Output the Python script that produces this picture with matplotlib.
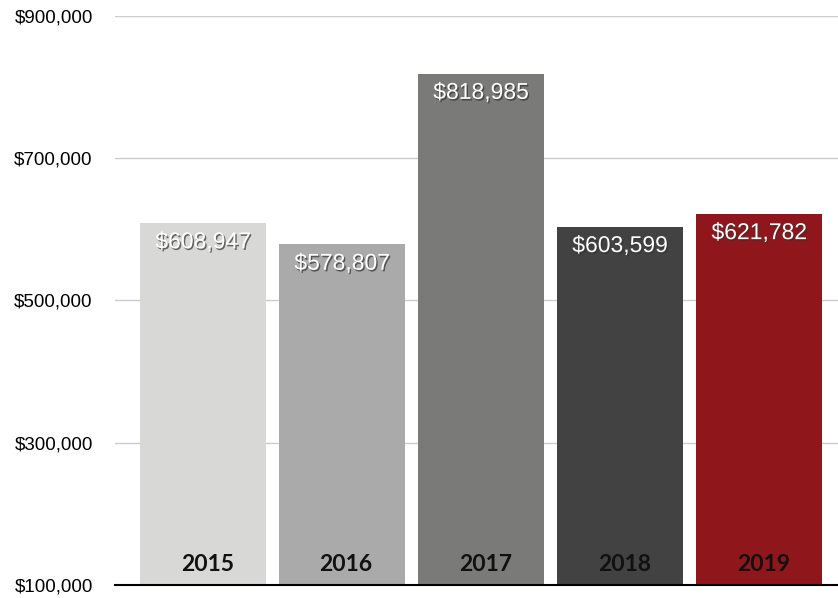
import matplotlib.pyplot as plt
import matplotlib.patheffects as pe
from matplotlib.ticker import FuncFormatter

years = ['2015', '2016', '2017', '2018', '2019']
values = [608947, 578807, 818985, 603599, 621782]
colors = ['#d8d8d6', '#a9aaa9', '#7a7a78', '#424242', '#8f171b']
yticks = [100000, 300000, 500000, 700000, 900000]

fig = plt.figure(figsize=(8.38, 5.98), dpi=100)
ax = fig.add_axes([115/838, 13/598, 1 - 115/838, 569/598])

x = range(len(years))
bars = ax.bar(x, values, width=0.906, color=colors, zorder=2)

ax.set_ylim(100000, 900000)
ax.set_xlim(-0.633, 4.568)
ax.set_yticks(yticks)
ax.yaxis.set_major_formatter(FuncFormatter(lambda v, p: '${:,.0f}'.format(v)))
ax.tick_params(axis='y', length=0, pad=16, labelsize=13.5)
ax.tick_params(axis='x', length=0, labelbottom=False)
for lbl in ax.get_yticklabels():
    lbl.set_fontfamily('Liberation Sans')

ax.grid(axis='y', color='#cccccc', lw=1, zorder=0)
for s in ['top', 'right', 'left']:
    ax.spines[s].set_visible(False)
ax.spines['bottom'].set_color('black')
ax.spines['bottom'].set_linewidth(1.5)
ax.spines['bottom'].set_zorder(3)

shadow = [pe.SimplePatchShadow(offset=(1, -1.2), shadow_rgbFace='#333333', alpha=0.7), pe.Normal()]
for xi, v, yr in zip(x, values, years):
    ax.annotate('${:,.0f}'.format(v), (xi, v), xytext=(0, -13.5), textcoords='offset points',
                ha='center', va='center', color='white', fontsize=16.5,
                family='Liberation Sans', path_effects=shadow, zorder=4)
    ax.annotate(yr, (xi + 0.03, 100000), xytext=(0, 14.5), textcoords='offset points',
                ha='center', va='center', color='#111111', fontsize=16.5,
                family='Lato', fontweight='bold', zorder=4)

fig.savefig('out.png', dpi=100)
